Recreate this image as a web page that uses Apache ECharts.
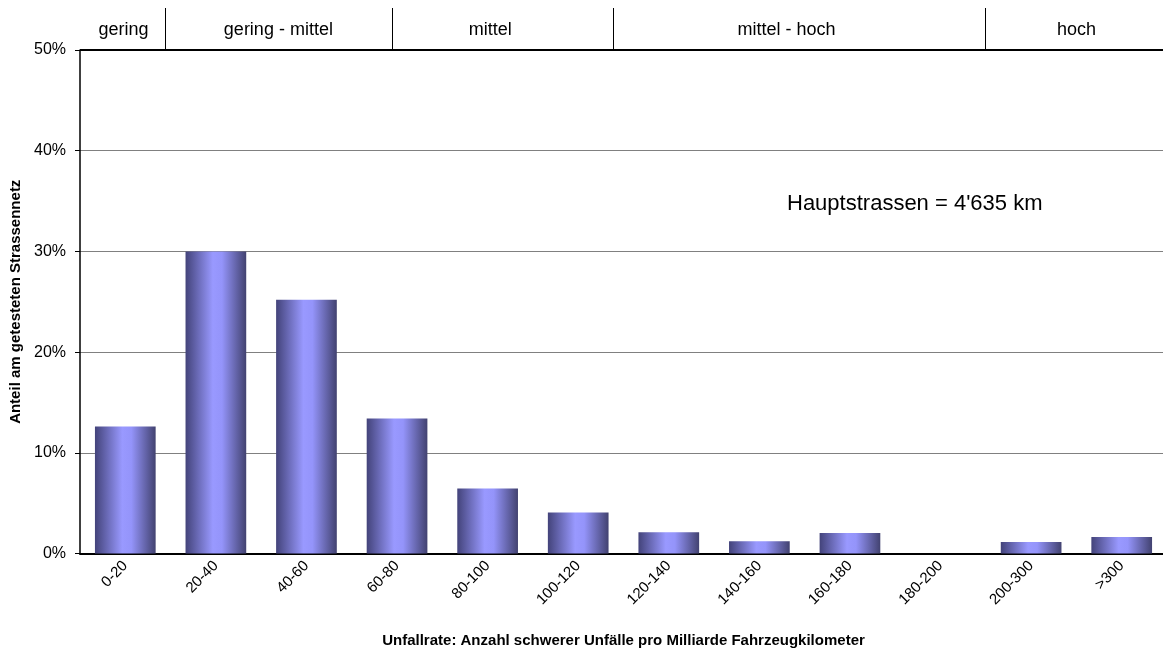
<!DOCTYPE html>
<html>

<head>
    <meta charset="UTF-8" />
    <title>Unfallrate Hauptstrassen</title>
    <script src="https://cdn.jsdelivr.net/npm/echarts@6/dist/echarts.min.js"></script>
    <style>
        body { margin: 0; background: #fff; }
    </style>
</head>

<body>
    <div id="chart" style="width: 1163px; height: 652px;"></div>

    <script type="text/javascript">
        // Kategorien und Werte (Anteil in %)
        var categories = ['0-20', '20-40', '40-60', '60-80', '80-100', '100-120', '120-140', '140-160', '160-180', '180-200', '200-300', '>300'];
        var shares = [12.6, 30.0, 25.2, 13.4, 6.45, 4.07, 2.12, 1.22, 2.04, 0, 1.14, 1.64];
        var yTicks = [0, 10, 20, 30, 40, 50];

        // Band oben (Einstufung), Positionen in Kategorie-Einheiten
        var bandNames = ['gering', 'gering - mittel', 'mittel', 'mittel - hoch', 'hoch'];
        var bandDividers = [0.94, 3.44, 5.88, 9.99];
        var bandLabelAt = [0.48, 2.19, 4.53, 7.8, 11.0];
        var note = "Hauptstrassen = 4'635 km";

        var font = 'Liberation Sans, Arial, sans-serif';
        var chart = echarts.init(document.getElementById('chart'));

        var barColor = new echarts.graphic.LinearGradient(0, 0, 1, 0, [
            { offset: 0, color: '#43437a' },
            { offset: 0.45, color: '#9999ff' },
            { offset: 0.6, color: '#9494fa' },
            { offset: 1, color: '#424270' }
        ]);

        var option = {
            animation: false,
            textStyle: { fontFamily: font },
            grid: { left: 80, top: 50, width: 1087, height: 503.5, outerBoundsMode: 'none', containLabel: false },
            xAxis: [
                {
                    type: 'category',
                    data: categories,
                    name: 'Unfallrate: Anzahl schwerer Unfälle pro Milliarde Fahrzeugkilometer',
                    nameLocation: 'middle',
                    nameGap: 80,
                    nameTextStyle: { fontWeight: 'bold', fontSize: 15, color: '#000' },
                    axisLine: { lineStyle: { color: '#000', width: 2 } },
                    axisTick: { length: 5, lineStyle: { color: '#000' } },
                    axisLabel: { rotate: 45, fontSize: 15, color: '#000', margin: 10 }
                },
                {
                    type: 'value', min: 0, max: 12, show: false
                }
            ],
            yAxis: {
                type: 'value',
                min: yTicks[0],
                max: yTicks[yTicks.length - 1],
                interval: 10,
                name: 'Anteil am getesteten Strassennetz',
                nameLocation: 'middle',
                nameGap: 56,
                nameTextStyle: { fontWeight: 'bold', fontSize: 15, color: '#000' },
                axisLine: { show: true, lineStyle: { color: '#000', width: 1.5 } },
                axisTick: { show: true, length: 5, lineStyle: { color: '#000' } },
                axisLabel: { fontSize: 16, color: '#000', margin: 14, formatter: '{value}%' },
                splitLine: { lineStyle: { color: '#808080', width: 1 } }
            },
            series: [
                {
                    type: 'bar',
                    data: shares,
                    barCategoryGap: '33%',
                    itemStyle: { color: barColor }
                }
            ]
        };
        chart.setOption(option);

        // Band oben und Hinweistext
        var yTop = chart.convertToPixel({ yAxisIndex: 0 }, 50);
        var graphics = [{
            type: 'line',
            shape: { x1: 80, y1: yTop, x2: 1163, y2: yTop },
            style: { stroke: '#000', lineWidth: 2 }
        }];
        bandDividers.forEach(function (v) {
            var x = Math.round(chart.convertToPixel({ xAxisIndex: 1 }, v)) + 0.5;
            graphics.push({
                type: 'line',
                shape: { x1: x, y1: 8, x2: x, y2: yTop },
                style: { stroke: '#000', lineWidth: 1 }
            });
        });
        bandNames.forEach(function (name, i) {
            graphics.push({
                type: 'text',
                x: chart.convertToPixel({ xAxisIndex: 1 }, bandLabelAt[i]),
                y: 30,
                style: { text: name, fontSize: 18, fontFamily: font, fill: '#000', align: 'center', verticalAlign: 'middle' }
            });
        });
        graphics.push({
            type: 'text',
            x: 787,
            y: 204,
            style: { text: note, fontSize: 22, fontFamily: font, fill: '#000', align: 'left', verticalAlign: 'middle' }
        });
        chart.setOption({ graphic: graphics });
    </script>
</body>

</html>
